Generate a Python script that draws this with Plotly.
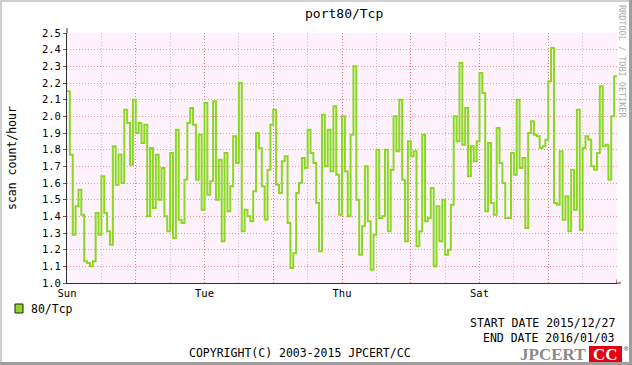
import plotly.graph_objects as go

# ---------------- data ----------------
title_text = "port80/Tcp"
series_name = "80/Tcp"
y_title = "scan count/hour"
start_date = "2015/12/27"
end_date = "2016/01/03"
copyright_text = "COPYRIGHT(C) 2003-2015 JPCERT/CC"
side_text = "RRDTOOL / TOBI OETIKER"

# hourly scan counts (hour 0 = Sun 00:00)
values = [
    2.15, 1.77, 1.29, 1.46, 1.56, 1.41, 1.13, 1.12, 1.10, 1.13, 1.42, 1.29,
    1.64, 1.42, 1.31, 1.23, 1.82, 1.59, 1.77, 1.60, 2.04, 1.96, 1.71, 2.10,
    1.90, 1.96, 1.84, 1.95, 1.40, 1.81, 1.45, 1.77, 1.50, 1.69, 1.40, 1.31,
    1.78, 1.27, 1.92, 1.38, 1.36, 1.62, 1.96, 2.05, 1.95, 1.62, 1.89, 1.44,
    2.08, 1.53, 1.61, 2.09, 1.50, 1.74, 1.25, 1.78, 1.43, 1.58, 1.88, 1.72,
    2.20, 1.31, 1.44, 1.40, 1.37, 1.55, 1.90, 1.81, 1.58, 1.38, 1.68, 1.95,
    2.04, 1.59, 1.54, 1.73, 1.76, 1.36, 1.09, 1.18, 1.54, 1.60, 1.75, 1.69,
    1.92, 1.78, 1.72, 1.48, 1.19, 2.01, 1.70, 1.92, 1.67, 2.06, 1.65, 1.41,
    2.00, 1.67, 1.40, 1.89, 2.30, 1.50, 1.17, 1.34, 1.70, 1.37, 1.08, 1.29,
    1.80, 1.39, 1.40, 1.80, 1.31, 1.68, 2.00, 1.79, 2.10, 1.62, 1.25, 1.85,
    1.76, 1.79, 1.22, 1.31, 1.89, 1.37, 1.39, 1.57, 1.10, 1.46, 1.25, 1.50,
    1.17, 1.20, 1.47, 2.00, 1.85, 2.32, 1.83, 2.05, 1.64, 1.82, 1.73, 1.85,
    2.26, 2.14, 1.43, 1.84, 1.48, 1.41, 1.93, 1.72, 1.60, 1.39, 1.39, 1.78,
    1.65, 2.10, 1.69, 1.75, 1.33, 1.90, 1.97, 1.89, 1.88, 1.81, 1.82, 1.86,
    2.21, 2.41, 1.48, 1.47, 1.79, 1.38, 1.52, 1.31, 1.68, 1.44, 2.04, 1.32,
    1.81, 1.88, 1.86, 1.70, 1.68, 1.78, 2.18, 1.82, 1.83, 1.62, 2.00, 2.24,
]

day_tick_hours = [0, 24, 48, 72, 96, 120, 144, 168]
day_tick_labels = ["Sun", "", "Tue", "", "Thu", "", "Sat", ""]
y_tick_values = [1.0, 1.1, 1.2, 1.3, 1.4, 1.5, 1.6, 1.7, 1.8, 1.9,
                 2.0, 2.1, 2.2, 2.3, 2.4, 2.5]
y_tick_labels = ["%.1f" % v for v in y_tick_values]
x_span_hours = 192

# ---------------- layout constants ----------------
W, H = 632, 365
L, R, T, B = 67, 15, 33, 82
PW, PH = W - L - R, H - T - B
MONO = "DejaVu Sans Mono"
GREEN = "#8ad823"


def px(x):
    return (x - L) / PW


def py(y):
    return (H - B - y) / PH


xs = list(range(len(values) + 1))
ys = values + [values[-1]]

fig = go.Figure()
fig.add_trace(go.Scatter(
    x=xs, y=ys, mode="lines", line=dict(color=GREEN, width=2, shape="hv"),
    name=series_name, showlegend=False, hoverinfo="skip"))

major_grid = "rgba(235,70,70,0.55)"
minor_grid = "rgba(150,130,150,0.45)"

fig.update_layout(
    width=W, height=H,
    margin=dict(l=L, r=R, t=T, b=B, autoexpand=False),
    paper_bgcolor="#ffffff",
    plot_bgcolor="#fff2fc",
    showlegend=False,
    font=dict(family=MONO, size=11, color="#000"),
    xaxis=dict(
        range=[0, x_span_hours], tickmode="array", tickvals=day_tick_hours,
        ticktext=day_tick_labels, showgrid=True, gridcolor=major_grid,
        griddash="1px,2px", gridwidth=1, zeroline=False,
        showline=True, linecolor="#303030", linewidth=1,
        ticks="", tickfont=dict(family=MONO, size=10.5, color="#000"),
        minor=dict(tick0=0, dtick=12, showgrid=True, gridcolor=minor_grid,
                   griddash="1px,2px", gridwidth=1),
        fixedrange=True, automargin=False,
    ),
    yaxis=dict(
        range=[1.0, 2.5], tickmode="array", tickvals=y_tick_values,
        ticktext=y_tick_labels, showgrid=True, gridcolor=major_grid,
        griddash="1px,2px", gridwidth=1, zeroline=False,
        showline=True, linecolor="#303030", linewidth=1,
        ticks="outside", ticklen=3, tickcolor="#b04040",
        tickfont=dict(family=MONO, size=10.5, color="#000"),
        fixedrange=True, automargin=False,
    ),
)

shapes = []
# outer frame
shapes.append(dict(type="rect", xref="paper", yref="paper", x0=px(0), x1=px(2),
                   y0=py(H), y1=py(0), fillcolor="#cfcfcf", line=dict(width=0), layer="above"))
shapes.append(dict(type="rect", xref="paper", yref="paper", x0=px(0), x1=px(W),
                   y0=py(2), y1=py(0), fillcolor="#cfcfcf", line=dict(width=0), layer="above"))
shapes.append(dict(type="rect", xref="paper", yref="paper", x0=px(W - 3), x1=px(W),
                   y0=py(H), y1=py(0), fillcolor="#9e9e9e", line=dict(width=0), layer="above"))
shapes.append(dict(type="rect", xref="paper", yref="paper", x0=px(0), x1=px(W),
                   y0=py(H), y1=py(H - 3), fillcolor="#9e9e9e", line=dict(width=0), layer="above"))
# axis extensions and arrows
shapes.append(dict(type="line", xref="paper", yref="paper", x0=0, x1=0, y0=1, y1=py(28),
                   line=dict(color="#303030", width=1)))
shapes.append(dict(type="line", xref="paper", yref="paper", x0=1, x1=px(621), y0=0, y1=0,
                   line=dict(color="#303030", width=1)))
shapes.append(dict(type="path", xref="x", yref="y", xsizemode="pixel", ysizemode="pixel",
                   xanchor=0, yanchor=2.5, path="M -3.5,1 L 3.5,1 L 0,7 Z",
                   fillcolor="#7f0000", line=dict(color="#7f0000", width=1), layer="above"))
shapes.append(dict(type="path", xref="x", yref="y", xsizemode="pixel", ysizemode="pixel",
                   xanchor=x_span_hours, yanchor=1.0, path="M 0,-3.5 L 0,3.5 L 6,0 Z",
                   fillcolor="#7f0000", line=dict(color="#7f0000", width=1), layer="above"))
# legend swatch
shapes.append(dict(type="rect", xref="paper", yref="paper", x0=px(15), x1=px(23),
                   y0=py(313), y1=py(304), fillcolor=GREEN, line=dict(color="#202020", width=1)))
# logo box
shapes.append(dict(type="rect", xref="paper", yref="paper", x0=px(589), x1=px(622),
                   y0=py(362), y1=py(346), fillcolor="#e50012", line=dict(width=0)))
fig.update_layout(shapes=shapes)


def ann(text, x, y, xanchor="center", size=11.5, color="#000", family=MONO, angle=0, **kw):
    fig.add_annotation(text=text, xref="paper", yref="paper", x=px(x), y=py(y),
                       xanchor=xanchor, yanchor="middle", showarrow=False,
                       textangle=angle, font=dict(family=family, size=size, color=color), **kw)


ann(title_text, 344, 14, size=13)
ann(y_title, 12, 158, size=11.5, angle=-90)
ann(series_name, 29, 309, xanchor="left", size=11.5)
ann("START DATE " + start_date, 617, 323, xanchor="right", size=11.5)
ann("END DATE " + end_date, 617, 338, xanchor="right", size=11.5)
ann(copyright_text, 300, 353, size=11.5)
ann(side_text, 622, 61, size=8.5, color="#ababab", angle=90)
ann("<b>JPCERT</b>", 588, 354, xanchor="right", size=17, color="#8a8a8a", family="Liberation Serif")
ann("<b>CC</b>", 605.5, 354, size=17, color="#ffffff", family="Liberation Serif")
ann("®", 626, 349, size=7, color="#444")

fig.write_html(
    "out.html",
    config={"displayModeBar": False, "staticPlot": True},
    post_script="document.body.style.margin='0';document.body.style.padding='0';"
                "document.body.style.overflow='hidden';",
)
